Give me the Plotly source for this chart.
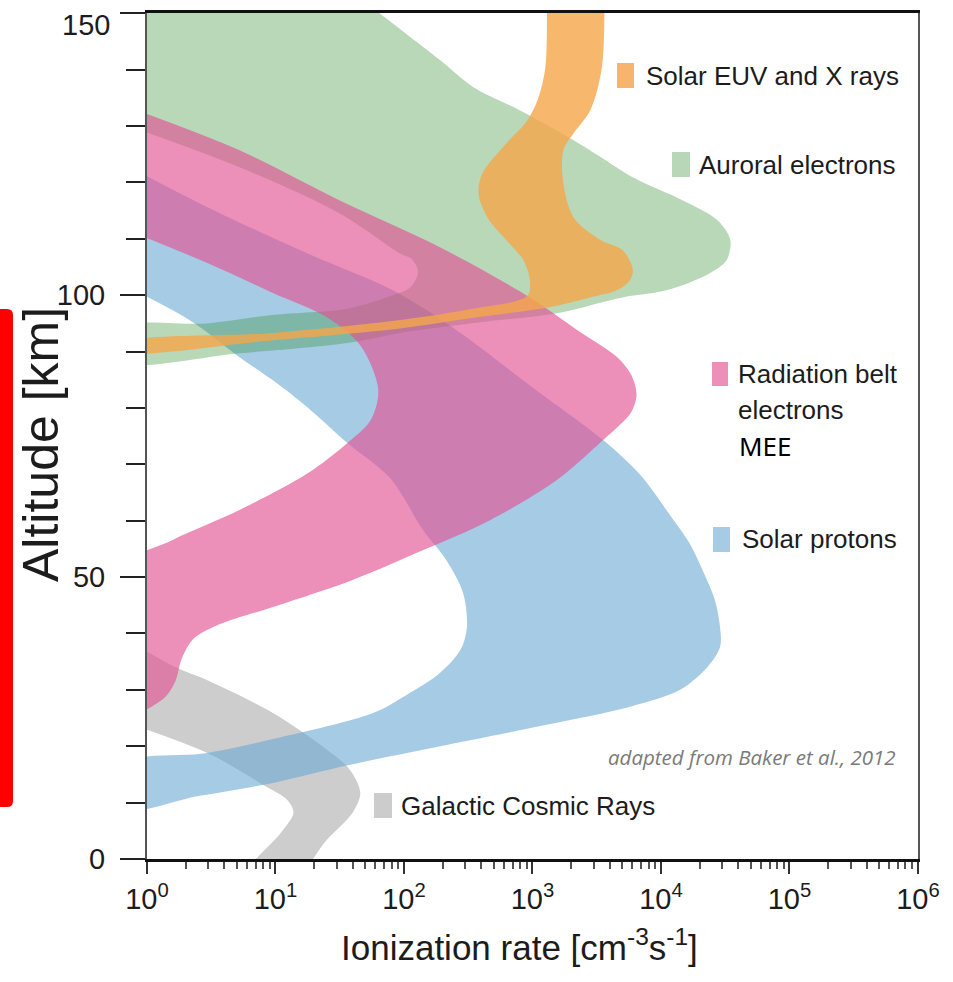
import plotly.graph_objects as go

# Band outlines: log10 of the ionization rate [cm^-3 s^-1] and altitude [km]
euv_log_rate = [3.11, 3.10, 3.04, 2.96, 2.80, 2.61, 2.58, 2.65, 2.82, 2.93, 2.98, 2.96,
                2.51, 1.97, 0.98, -0.2, -0.2, 0.98, 1.97, 2.51, 3.14, 3.45, 3.66,
                3.76, 3.78, 3.70, 3.53, 3.32, 3.24, 3.24, 3.32, 3.45, 3.54, 3.56]
euv_alt = [155, 140.4, 134.6, 131.0, 127.0, 121.6, 118.1, 113.8, 109.2, 106.2, 102.7, 99.9,
           97.5, 95.6, 93.3, 91.5, 90.0, 92.0, 94.1, 95.9, 97.9, 99.6, 100.9,
           102.7, 104.7, 108.0, 109.8, 113.8, 119.9, 125.7, 128.7, 132.8, 140.4, 155]

auroral_log_rate = [-0.2, 1.53, 1.81, 2.28, 2.54, 2.90, 3.32, 3.53, 3.78, 4.17, 4.44, 4.54,
                    4.51, 4.38, 4.05, 3.70, 3.19, 2.59, 1.97, 1.56, 0.72, -0.2,
                    -0.2, 0.47, 0.98, 1.56, 1.89, 2.05, 2.11, 2.06, 1.97, 1.50, 0.72, -0.2]
auroral_alt = [155, 155, 150, 141.7, 136.9, 132.8, 127.5, 124.5, 120.9, 116.8, 113.3, 109.8,
               106.2, 103.9, 100.9, 99.6, 96.8, 95.2, 93.3, 91.5, 89.7, 88.3,
               94.2, 95.0, 96.5, 97.6, 99.8, 101.4, 104.1, 106.4, 107.4, 114.5, 122.7, 130.5]

belt_log_rate = [-0.2, 0.72, 1.50, 2.28, 2.98, 3.35, 3.66, 3.77, 3.81, 3.77, 3.68, 3.55,
                 3.19, 2.67, 2.15, 1.60, 0.98, 0.55, 0.36, 0.27, 0.22, 0.12, -0.2,
                 -0.2, 0.20, 0.72, 1.25, 1.56, 1.74, 1.80, 1.66, 1.40, 0.98, 0.47, -0.2]
belt_alt = [133.8, 125.7, 116.8, 108.5, 99.6, 93.8, 89.0, 85.8, 82.3, 79.3, 77.0, 74.3,
            67.2, 60.1, 54.8, 49.5, 44.7, 41.5, 39.0, 35.5, 31.5, 28.3, 25.5,
            51.5, 56.6, 61.9, 68.4, 73.8, 77.8, 83.2, 91.1, 96.1, 100.4, 105.7, 112.0]

proton_log_rate = [-0.2, 0.47, 1.25, 1.91, 2.41, 2.98, 3.55, 3.84, 4.07, 4.23, 4.34, 4.42,
                   4.46, 4.46, 4.36, 4.15, 3.76, 3.11, 2.33, 1.58, 0.98, 0.41, -0.2,
                   -0.2, 0.47, 1.04, 1.76, 2.02, 2.28, 2.44, 2.49, 2.46, 2.33, 2.15,
                   1.89, 1.56, 1.25, 0.98, 0.72, 0.33, -0.2]
proton_alt = [123.5, 115.6, 107.4, 100.9, 93.8, 84.0, 74.3, 68.1, 61.0, 55.7, 50.4, 45.9,
              41.1, 37.6, 34.0, 30.0, 27.0, 23.8, 20.2, 16.7, 13.5, 11.2, 8.9,
              16.8, 18.8, 21.6, 25.9, 29.1, 33.0, 37.1, 41.1, 47.2, 53.0, 58.3,
              67.6, 73.8, 80.1, 84.9, 89.0, 95.6, 102.0]

gcr_log_rate = [-0.2, 0.23, 0.47, 0.98, 1.37, 1.58, 1.66, 1.60, 1.40, 1.16,
                0.76, 1.04, 1.14, 1.09, 0.93, 0.47, -0.2]
gcr_alt = [39.5, 33.9, 31.7, 25.9, 19.9, 15.8, 11.7, 8.2, 3.4, -3,
           -3, 4.6, 8.2, 10.5, 12.8, 18.8, 24.5]

x_tick_vals = [1, 10, 100, 1e3, 1e4, 1e5, 1e6]
x_tick_text = ["10<sup>%d</sup>" % k for k in range(7)]
y_tick_vals = [0, 50, 100, 150]
# the top label is placed separately, just under the axis end
y_tick_text = ["0", "50", "100", ""]

SANS = "Liberation Sans, Arial, sans-serif"
TEXT_COLOR = "#1c1c1c"


def band(log_rate, alt, fill, name):
    return go.Scatter(
        x=[10 ** v for v in log_rate], y=alt, name=name,
        mode="lines", fill="toself", fillcolor=fill,
        line=dict(width=0, shape="spline", smoothing=0.9),
        hoverinfo="skip", showlegend=False,
    )


fig = go.Figure()
fig.add_trace(band(gcr_log_rate, gcr_alt, "rgb(205,205,205)", "Galactic Cosmic Rays"))
fig.add_trace(band(proton_log_rate, proton_alt, "rgba(107,168,212,0.6)", "Solar protons"))
fig.add_trace(band(auroral_log_rate, auroral_alt, "rgba(52,143,52,0.35)", "Auroral electrons"))
fig.add_trace(band(belt_log_rate, belt_alt, "rgba(226,83,147,0.65)", "Radiation belt electrons"))
fig.add_trace(band(euv_log_rate, euv_alt, "rgba(245,166,74,0.8)", "Solar EUV and X rays"))

# plot area spans x 147..918 px and y 13..859 px of the page
def px(x):
    return (x - 147) / 771


def py(y):
    return (859 - y) / 846


shapes = []
annotations = []


def key(x0, x1, y0, y1, color, lines, tx, ty, gap=36):
    shapes.append(dict(type="rect", xref="paper", yref="paper", x0=px(x0), x1=px(x1),
                       y0=py(y1), y1=py(y0), fillcolor=color, line=dict(width=0)))
    for i, t in enumerate(lines):
        annotations.append(dict(xref="paper", yref="paper", x=px(tx), y=py(ty + i * gap),
                                xanchor="left", yanchor="middle", showarrow=False, text=t,
                                font=dict(family=SANS, size=26, color=TEXT_COLOR)))


key(617, 634, 63, 88, "rgb(247,180,110)", ["Solar EUV and X rays"], 644, 76)
key(672, 690, 152, 177, "rgb(184,215,184)", ["Auroral electrons"], 697, 165)
key(712, 728, 362, 386, "rgb(236,143,185)", ["Radiation belt", "electrons"], 736, 374)
key(713, 730, 527, 552, "rgb(166,203,229)", ["Solar protons"], 740, 539)
key(374, 392, 793, 818, "rgb(204,204,204)", ["Galactic Cosmic Rays"], 399, 806)

annotations.append(dict(xref="paper", yref="paper", x=px(112), y=py(25), xanchor="right",
                        yanchor="middle", showarrow=False, text="150",
                        font=dict(family=SANS, size=29, color=TEXT_COLOR)))
annotations.append(dict(xref="paper", yref="paper", x=px(737), y=py(446), xanchor="left",
                        yanchor="middle", showarrow=False, text="MEE",
                        font=dict(family="Noto Sans, Open Sans, sans-serif", size=26, color="black")))
annotations.append(dict(xref="paper", yref="paper", x=px(898), y=py(757), xanchor="right",
                        yanchor="middle", showarrow=False, text="<i>adapted from Baker et al., 2012</i>",
                        font=dict(family="Open Sans, Noto Sans, sans-serif", size=20.5, color="#7a7a7a")))
annotations.append(dict(xref="paper", yref="paper", x=px(41), y=py(444), xanchor="center",
                        yanchor="middle", showarrow=False, text="Altitude [km]", textangle=-90,
                        font=dict(family=SANS, size=50, color=TEXT_COLOR)))
annotations.append(dict(xref="paper", yref="paper", x=px(519), y=py(945), xanchor="center",
                        yanchor="middle", showarrow=False,
                        text="Ionization rate [cm<sup>-3</sup>s<sup>-1</sup>]",
                        font=dict(family=SANS, size=35, color=TEXT_COLOR)))

# red marker bar at the left page edge, rounded on the right
bx0, bx1, by0, by1 = px(-6), px(13), py(807), py(309)
rx, ry = 6 / 771, 6 / 846
shapes.append(dict(
    type="path", xref="paper", yref="paper", fillcolor="#ff0000", line=dict(width=0),
    path=(f"M {bx0},{by0} L {bx1 - rx},{by0} Q {bx1},{by0} {bx1},{by0 + ry} "
          f"L {bx1},{by1 - ry} Q {bx1},{by1} {bx1 - rx},{by1} L {bx0},{by1} Z"),
))

minor_x = [m * 10 ** k for k in range(6) for m in range(2, 10)]

fig.update_layout(
    width=953, height=982,
    margin=dict(l=147, r=35, t=13, b=123, autoexpand=False),
    paper_bgcolor="white", plot_bgcolor="white",
    shapes=shapes, annotations=annotations,
    xaxis=dict(
        type="log", range=[0, 6.0005], showgrid=False, zeroline=False, automargin=False,
        showline=True, linewidth=3, linecolor="#111", mirror=True,
        ticks="outside", tickvals=x_tick_vals, ticktext=x_tick_text,
        ticklen=12, tickwidth=2, tickcolor="#333", ticklabeloverflow="allow",
        tickfont=dict(family=SANS, size=29, color=TEXT_COLOR),
        minor=dict(tickvals=minor_x, ticks="outside", ticklen=7, tickwidth=1.5, tickcolor="#555"),
    ),
    yaxis=dict(
        range=[0, 150.05], showgrid=False, zeroline=False, automargin=False,
        showline=True, linewidth=2, linecolor="#555", mirror=True,
        ticks="outside", tickvals=y_tick_vals, ticktext=y_tick_text,
        ticklen=25, tickwidth=2, tickcolor="#222",
        ticklabelstandoff=9, ticklabeloverflow="allow",
        tickfont=dict(family=SANS, size=29, color=TEXT_COLOR),
        minor=dict(dtick=10, ticks="outside", ticklen=19, tickwidth=2, tickcolor="#222"),
    ),
)

fig.write_html("out.html")
